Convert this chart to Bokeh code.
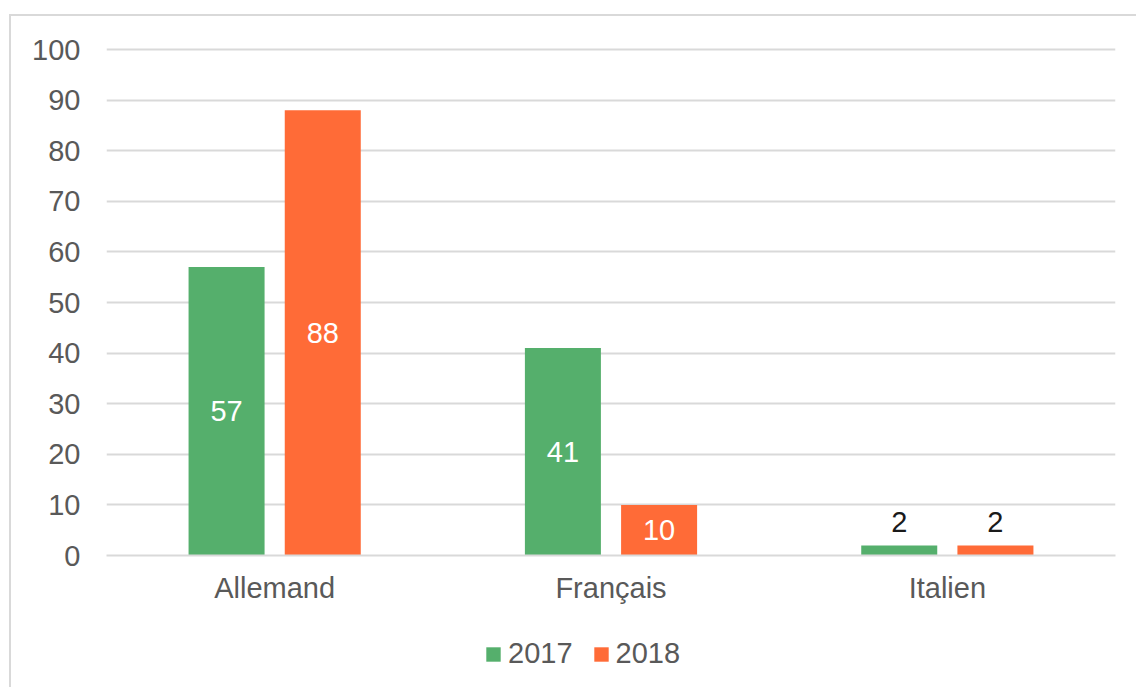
from bokeh.plotting import figure
from bokeh.models import ColumnDataSource, FactorRange, Range1d, FixedTicker, Legend, LegendItem
from bokeh.layouts import column
from bokeh.transform import dodge
from bokeh.core.properties import value
from bokeh.embed import file_html
from bokeh.resources import INLINE

categories = ["Allemand", "Français", "Italien"]
series_names = ["2017", "2018"]
values_2017 = [57, 41, 2]
values_2018 = [88, 10, 2]
y_ticks = [0, 10, 20, 30, 40, 50, 60, 70, 80, 90, 100]

GREEN = "#55AF6C"
ORANGE = "#FF6B37"
GRID = "#D9D9D9"
TXT = "#595959"
FONT = "Liberation Sans"
FS = "29px"

def label_data(vals):
    ys, cols, bases, offs = [], [], [], []
    for v in vals:
        if v >= 5:
            ys.append(v / 2.0); cols.append("white"); bases.append("middle"); offs.append(0)
        else:
            ys.append(v); cols.append("#1A1A1A"); bases.append("bottom"); offs.append(-13)
    return ys, cols, bases, offs

l17 = label_data(values_2017)
l18 = label_data(values_2018)
src = ColumnDataSource(dict(cat=categories, v17=values_2017, v18=values_2018))

p = figure(x_range=FactorRange(*categories, range_padding=0), y_range=Range1d(0, 100.4),
           width=1127, height=613, output_backend="svg", toolbar_location=None,
           min_border_left=95, min_border_right=23, min_border_top=31, min_border_bottom=74)
p.styles = {"border-top": "2px solid #D9D9D9", "border-left": "2px solid #D9D9D9"}
p.outline_line_color = None
p.background_fill_color = "white"
p.border_fill_color = "white"

bw = 0.226
off = 0.143
r17 = p.vbar(x=dodge("cat", -off, range=p.x_range), top="v17", width=bw, source=src,
             fill_color=GREEN, line_color=None)
r18 = p.vbar(x=dodge("cat", off, range=p.x_range), top="v18", width=bw, source=src,
             fill_color=ORANGE, line_color=None)

for i, cat in enumerate(categories):
    for vals, lab, dx in ((values_2017, l17, -off), (values_2018, l18, off)):
        p.text(x=dodge("x", dx, range=p.x_range), y="y", text="t",
               source=ColumnDataSource(dict(x=[cat], y=[lab[0][i]], t=[str(vals[i])])),
               text_color=lab[1][i], text_align="center", text_baseline=lab[2][i],
               y_offset=lab[3][i], text_font=value(FONT), text_font_size=FS)

p.xgrid.grid_line_color = None
p.ygrid.grid_line_color = GRID
p.ygrid.grid_line_width = 2
p.yaxis.ticker = FixedTicker(ticks=y_ticks)
p.yaxis.axis_line_color = None
p.yaxis.major_tick_line_color = None
p.yaxis.minor_tick_line_color = None
p.yaxis.major_label_standoff = 20
p.yaxis.major_label_text_font = FONT
p.yaxis.major_label_text_font_size = FS
p.yaxis.major_label_text_color = TXT

p.xaxis.axis_line_color = GRID
p.xaxis.axis_line_width = 2
p.xaxis.major_tick_line_color = None
p.xaxis.minor_tick_line_color = None
p.xaxis.major_label_standoff = 10
p.xaxis.major_label_text_font = FONT
p.xaxis.major_label_text_font_size = FS
p.xaxis.major_label_text_color = TXT

# legend strip: same series drawn outside its visible range, only the legend shows
lf = figure(x_range=FactorRange(*categories, range_padding=0), y_range=Range1d(1000, 1001),
            width=1127, height=60, output_backend="svg", toolbar_location=None, min_border=0)
lf.styles = {"border-left": "2px solid #D9D9D9"}
lf.axis.visible = False
lf.grid.visible = False
lf.outline_line_color = None
lf.border_fill_color = "white"
d17 = lf.vbar(x="cat", top="v17", width=bw, source=src, fill_color=GREEN, line_color=None)
d18 = lf.vbar(x="cat", top="v18", width=bw, source=src, fill_color=ORANGE, line_color=None)
legend = Legend(items=[LegendItem(label=series_names[0], renderers=[d17]),
                       LegendItem(label=series_names[1], renderers=[d18])],
                orientation="horizontal", location=(378, 17),
                glyph_width=18, glyph_height=18, label_standoff=6, spacing=19,
                padding=0, margin=0, border_line_color=None, background_fill_alpha=0,
                label_text_font=FONT, label_text_font_size=FS, label_text_color=TXT)
lf.add_layout(legend, "center")

layout = column(p, lf, spacing=0, margin=(14, 0, 0, 9))
open("out.html", "w").write(file_html(layout, INLINE))
